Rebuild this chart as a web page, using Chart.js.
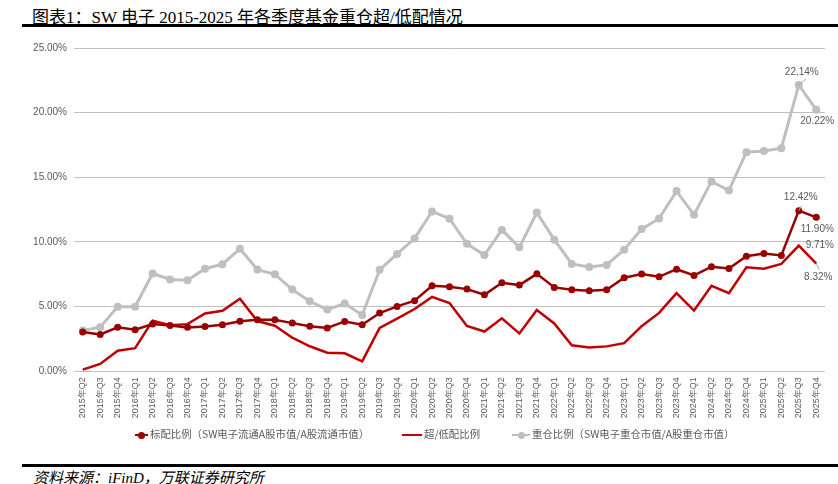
<!DOCTYPE html>
<html>
<head>
<meta charset="utf-8">
<script src="https://cdn.jsdelivr.net/npm/chart.js@4.4.1/dist/chart.umd.min.js"></script>
<style>
  body { margin: 0; background: #fff; }
  #page { position: relative; width: 838px; height: 484px; overflow: hidden; background: #fff; }
  #title { position: absolute; left: 32px; top: 3px; font: 17px "Liberation Serif", "Noto Sans CJK SC"; color: #000; white-space: nowrap; }
  .rule { position: absolute; left: 22px; right: 0; background: #000; }
  #chartBox { position: absolute; left: 0; top: 30px; width: 838px; height: 400px; }
  .item { position: absolute; top: 426px; height: 14px; line-height: 14px; font: 10.4px "Noto Sans CJK SC"; color: #595959; white-space: nowrap; }
  .mk { display: inline-block; position: relative; height: 2.5px; vertical-align: middle; margin-right: 2px; }
  .mk i { position: absolute; left: 50%; top: 50%; width: 7px; height: 7px; margin: -3.5px 0 0 -3.5px; border-radius: 50%; }
  #source { position: absolute; left: 33px; top: 466px; font: italic 15px "Liberation Serif", "Noto Sans CJK SC"; color: #000; white-space: nowrap; }
</style>
</head>
<body>
<div id="page">
  <div id="title">图表1：SW 电子 2015-2025 年各季度基金重仓超/低配情况</div>
  <div class="rule" style="top:24px;height:2.5px"></div>
  <div id="chartBox"><canvas id="chart"></canvas></div>
  <div id="legend"></div>
  <div class="rule" style="top:464px;height:3px"></div>
  <div id="source">资料来源：iFinD，万联证券研究所</div>
</div>

<script>
// 季度
const quarters = [
  '2015年Q2','2015年Q3','2015年Q4',
  '2016年Q1','2016年Q2','2016年Q3','2016年Q4',
  '2017年Q1','2017年Q2','2017年Q3','2017年Q4',
  '2018年Q1','2018年Q2','2018年Q3','2018年Q4',
  '2019年Q1','2019年Q2','2019年Q3','2019年Q4',
  '2020年Q1','2020年Q2','2020年Q3','2020年Q4',
  '2021年Q1','2021年Q2','2021年Q3','2021年Q4',
  '2022年Q1','2022年Q2','2022年Q3','2022年Q4',
  '2023年Q1','2023年Q2','2023年Q3','2023年Q4',
  '2024年Q1','2024年Q2','2024年Q3','2024年Q4',
  '2025年Q1','2025年Q2','2025年Q3','2025年Q4'
];

// 标配比例（%）
const standardRatio = [
  3.03, 2.84, 3.39,
  3.21, 3.65, 3.54, 3.39,
  3.46, 3.60, 3.87, 3.98,
  3.98, 3.72, 3.48, 3.34,
  3.85, 3.59, 4.50, 5.01,
  5.45, 6.61, 6.53, 6.35,
  5.91, 6.84, 6.66, 7.53,
  6.48, 6.30, 6.22, 6.30,
  7.23, 7.51, 7.30, 7.89,
  7.41, 8.08, 7.95, 8.90,
  9.11, 8.95, 12.42, 11.90
];

// 超/低配比例（%）
const overUnderRatio = [
  0.12, 0.56, 1.59,
  1.78, 3.91, 3.55, 3.64,
  4.47, 4.68, 5.60, 3.88,
  3.52, 2.59, 1.93, 1.43,
  1.38, 0.76, 3.34, 4.06,
  4.81, 5.75, 5.27, 3.50,
  3.07, 4.09, 2.92, 4.74,
  3.69, 2.00, 1.84, 1.92,
  2.17, 3.48, 4.51, 6.04,
  4.69, 6.60, 6.03, 8.04,
  7.92, 8.30, 9.71, 8.32
];

// 重仓比例（%）
const heavyRatio = [
  3.15, 3.40, 4.98,
  4.99, 7.56, 7.09, 7.03,
  7.93, 8.28, 9.47, 7.86,
  7.50, 6.31, 5.41, 4.77,
  5.23, 4.35, 7.84, 9.07,
  10.26, 12.36, 11.80, 9.85,
  8.98, 10.93, 9.58, 12.27,
  10.17, 8.30, 8.06, 8.22,
  9.40, 10.99, 11.81, 13.93,
  12.10, 14.68, 13.98, 16.94,
  17.03, 17.25, 22.14, 20.22
];

const yTicks = [0, 5, 10, 15, 20, 25];

const seriesNames = [
  '标配比例（SW电子流通A股市值/A股流通市值）',
  '超/低配比例',
  '重仓比例（SW电子重仓市值/A股重仓市值）'
];
const seriesColors = ['#990000', '#c00000', '#bfbfbf'];

// 凡例（線＋点）
const legendPos = [
  { left: 135, w: 13, dot: true },
  { left: 402, w: 20, dot: false },
  { left: 512, w: 18, dot: true }
];
const legendEl = document.getElementById('legend');
seriesNames.forEach(function (name, i) {
  const item = document.createElement('div');
  item.className = 'item';
  item.style.left = legendPos[i].left + 'px';
  const mk = document.createElement('span');
  mk.className = 'mk';
  mk.style.width = legendPos[i].w + 'px';
  mk.style.background = seriesColors[i];
  if (legendPos[i].dot) {
    const d = document.createElement('i');
    d.style.background = seriesColors[i];
    mk.appendChild(d);
  }
  item.appendChild(mk);
  item.appendChild(document.createTextNode(name));
  legendEl.appendChild(item);
});

// 最後の2点だけラベル
const endLabels = [
  { ds: 2, i: 41, dx: 3, dy: -13, lead: [7, -6] },
  { ds: 2, i: 42, dx: 1, dy: 11 },
  { ds: 0, i: 41, dx: 2, dy: -13, lead: [3, -5] },
  { ds: 0, i: 42, dx: 1, dy: 12 },
  { ds: 1, i: 41, dx: 21, dy: 0 },
  { ds: 1, i: 42, dx: 2, dy: 14, lead: [3, 6] }
];

const endLabelPlugin = {
  id: 'endLabels',
  afterDatasetsDraw: function (chart) {
    const ctx = chart.ctx;
    ctx.save();
    ctx.font = '10px "Liberation Sans"';
    ctx.fillStyle = '#595959';
    ctx.strokeStyle = '#a6a6a6';
    ctx.lineWidth = 1;
    ctx.textAlign = 'center';
    ctx.textBaseline = 'middle';
    endLabels.forEach(function (l) {
      const pt = chart.getDatasetMeta(l.ds).data[l.i];
      const v = chart.data.datasets[l.ds].data[l.i];
      if (l.lead) {
        ctx.beginPath();
        ctx.moveTo(pt.x, pt.y);
        ctx.lineTo(pt.x + l.lead[0], pt.y + l.lead[1]);
        ctx.stroke();
      }
      ctx.fillText(v.toFixed(2) + '%', pt.x + l.dx, pt.y + l.dy);
    });
    ctx.restore();
  }
};

new Chart(document.getElementById('chart'), {
  type: 'line',
  data: {
    labels: quarters,
    datasets: [
      {
        label: seriesNames[0],
        data: standardRatio,
        borderColor: seriesColors[0],
        backgroundColor: seriesColors[0],
        borderWidth: 2.5,
        pointRadius: 3.5,
        pointBorderWidth: 0
      },
      {
        label: seriesNames[1],
        data: overUnderRatio,
        borderColor: seriesColors[1],
        backgroundColor: seriesColors[1],
        borderWidth: 2.5,
        pointRadius: 0
      },
      {
        label: seriesNames[2],
        data: heavyRatio,
        borderColor: seriesColors[2],
        backgroundColor: seriesColors[2],
        borderWidth: 3,
        pointRadius: 4,
        pointBorderWidth: 0
      }
    ]
  },
  options: {
    responsive: true,
    maintainAspectRatio: false,
    devicePixelRatio: 1,
    animation: false,
    layout: { padding: { top: 18, right: 13, left: 0, bottom: 0 } },
    plugins: {
      legend: { display: false },
      tooltip: { enabled: false }
    },
    scales: {
      x: {
        offset: true,
        grid: { display: false, drawTicks: false },
        border: { display: false },
        ticks: {
          autoSkip: false,
          minRotation: 90,
          maxRotation: 90,
          padding: 6,
          color: '#595959',
          font: { family: '"Liberation Sans"', size: 9 }
        },
        afterFit: function (s) { s.height = 58.8; }
      },
      y: {
        min: yTicks[0],
        max: yTicks[yTicks.length - 1],
        afterBuildTicks: function (s) { s.ticks = yTicks.map(function (v) { return { value: v }; }); },
        grid: { color: '#bfbfbf', lineWidth: 1, drawTicks: false },
        border: { display: false },
        ticks: {
          padding: 7,
          color: '#595959',
          font: { family: '"Liberation Sans"', size: 10 },
          callback: function (v) { return v.toFixed(2) + '%'; }
        },
        afterFit: function (s) { s.width = 74; }
      }
    }
  },
  plugins: [endLabelPlugin]
});
</script>
</body>
</html>
